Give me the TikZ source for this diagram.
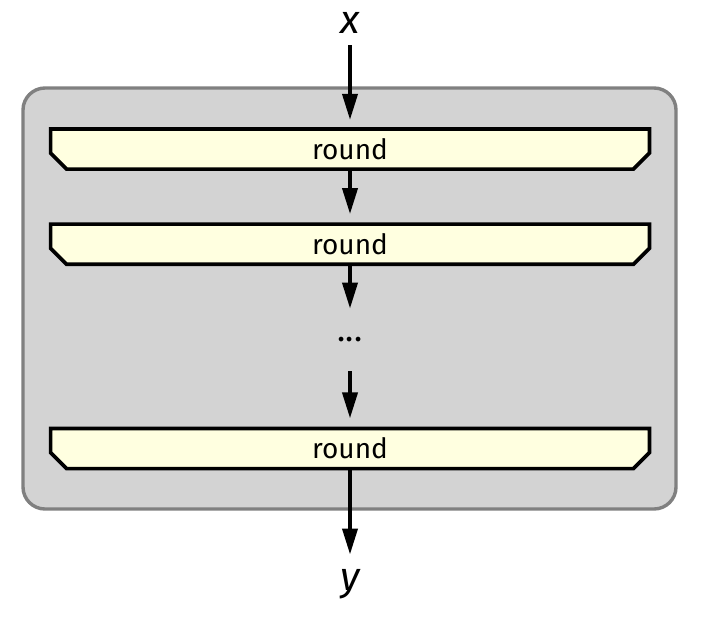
\documentclass[tikz,border=0pt]{standalone}
\usepackage{fontspec}
\setmainfont{Fira Sans}
\usetikzlibrary{arrows.meta}
\definecolor{panelgray}{HTML}{D3D3D3}
\definecolor{panelline}{HTML}{808080}
\definecolor{roundyellow}{HTML}{FFFFE0}
\pgfdeclarelayer{background}
\pgfsetlayers{background,main}

\begin{document}
\begin{tikzpicture}[x=0.5pt, y=-0.5pt,
        panel/.style = {draw=panelline, fill=panelgray, line width=1.7pt, rounded corners=11pt,
            minimum width=326.5pt, minimum height=210.5pt, inner sep=0pt},
        roundbox/.style = {minimum width=299pt, minimum height=19.7pt, inner sep=0pt,
            font=\fontsize{14}{16}\selectfont},
        roundframe/.style = {draw, fill=roundyellow, line width=1.85pt},
        io/.style = {font=\fontsize{20}{24}\selectfont\itshape, inner sep=3pt, anchor=base},
        flow/.style = {-{Triangle[length=13pt, width=7.5pt]}, line width=1.9pt}]
        \useasboundingbox (0,0) rectangle (716,616);
        \node[io] (x) at (350,33) {x};
        \node[roundbox] (r1) at (350,149) {round};
        \node[roundbox] (r2) at (350,244.2) {round};
        \node[minimum height=31pt, inner sep=0pt, font=\fontsize{17}{19}\selectfont] (dots) at (350,340) {...};
        \node[roundbox] (r3) at (350,448.5) {round};
        \node[io] (y) at (350,590) {y};
        \begin{pgfonlayer}{background}
            \node[panel] (block) at (349.5,298.5) {};
            \foreach \n in {r1,r2,r3}
                \draw[roundframe] (\n.north west) -- (\n.north east) -- ([yshift=8pt]\n.south east)
                    -- ([xshift=-8pt]\n.south east) -- ([xshift=8pt]\n.south west)
                    -- ([yshift=8pt]\n.south west) -- cycle;
        \end{pgfonlayer}
        \draw[flow, shorten <=3pt, shorten >=4.5pt] (x) -- (r1);
        \draw[flow, shorten >=5pt] (r1) -- (r2);
        \draw[flow] (r2) -- (dots);
        \draw[flow, shorten >=5pt] (dots) -- (r3);
        \draw[flow, shorten >=4pt] (r3) -- (y);
\end{tikzpicture}
\end{document}
